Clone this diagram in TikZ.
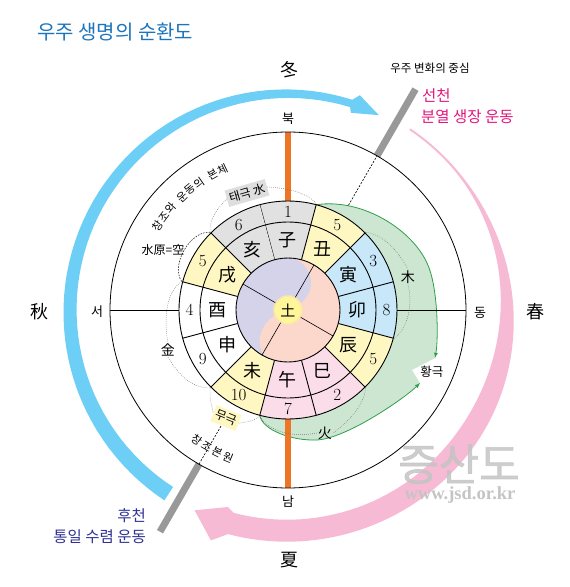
\documentclass[tikz,border=0pt]{standalone}
\usepackage{fontspec}
\newfontfamily\krfont{Noto Sans CJK KR}
\newfontfamily\krbold[FakeBold=1.5]{Noto Sans CJK KR}
\newfontfamily\wmfont{Liberation Serif}
\usepackage{tikz}
\usetikzlibrary{arrows}

\definecolor{ringgrey}{HTML}{E1E1E2}
\definecolor{ringyellow}{HTML}{FFF7C2}
\definecolor{ringblue}{HTML}{C8E7F8}
\definecolor{ringpink}{HTML}{FBDDEA}
\definecolor{discpurple}{HTML}{D5D3EA}
\definecolor{discpeach}{HTML}{FBD8CB}
\definecolor{earthyellow}{HTML}{FFF59B}
\definecolor{earthrim}{HTML}{FBE8A6}
\definecolor{hwangfill}{HTML}{CDE6D1}
\definecolor{hwangline}{HTML}{2E9E4A}
\definecolor{meridian}{HTML}{EF7526}
\definecolor{axisgrey}{HTML}{999999}
\definecolor{autumnblue}{HTML}{6DCFF6}
\definecolor{springpink}{HTML}{F7BAD5}
\definecolor{seoncheon}{HTML}{E3157C}
\definecolor{hucheon}{HTML}{2E3192}
\definecolor{titleblue}{HTML}{1C75BC}
\definecolor{wmgrey}{HTML}{C4C4C4}

\newcommand{\pxsize}[1]{\fontsize{#1}{#1}\selectfont}

\begin{document}
\begin{tikzpicture}[x=1pt, y=1pt,
    declare function={
      bo(\x)=219.8+7.2*(\x-72)/165;
      bi(\x)=212.2-1.2*(\x-72)/165;
      ps(\x)=min(1,max(0,(45-\x)/85));
      pw(\x)=2+20*(3*ps(\x)^2-2*ps(\x)^3);
      pc(\x)=218+3*(56-\x)/161;
    },
    kr/.style={font={\krfont\pxsize{#1}}, inner sep=1pt},
    kr/.default=12,
    branch/.style={font={\krfont\pxsize{18}}, inner sep=0pt},
    number/.style={font={\pxsize{17}}, inner sep=0pt},
    ringline/.style={line width=0.9pt},
    guide/.style={black!55, line width=0.5pt, dash pattern=on 0.7pt off 1.3pt},
    tagbox/.style={kr=12, inner sep=2.5pt, minimum height=17pt},
    arctext/.style={kr=11, inner sep=0pt}]

\useasboundingbox (-288,-277) rectangle (282,310);

% the two halves of the cycle
\fill[autumnblue] plot[domain=237:73, samples=60] (\x:{bo(\x)})
    -- (71.5:226.5) -- (65:215) -- (72.3:207)
    -- plot[domain=73:237, samples=60] (\x:{bi(\x)}) -- cycle;
\fill[springpink] plot[domain=56:-105, samples=80] (\x:{pc(\x)+pw(\x)/2})
    -- (-108.5:243) -- (-115:221) -- (-107:206)
    -- plot[domain=-105:56, samples=80] (\x:{pc(\x)-pw(\x)/2}) -- cycle;

% axis of change
\coordinate (rimNE) at (60:178);
\coordinate (axisNE) at (60:255);
\coordinate (rimSW) at (240:178);
\coordinate (axisSW) at (240:256);
\draw[axisgrey, line width=7pt] (rimNE) -- (axisNE);
\draw[axisgrey, line width=7pt] (rimSW) -- (axisSW);

% hwanggeuk region
\fill[hwangfill] (75:109) .. controls (75,112) and (124,80) .. (139,47)
    .. controls (150,24.5) and (150.6,-28.4) .. (147,-48) -- (124,-60) -- (132,-73)
    .. controls (118,-87) and (60,-128) .. (29,-130)
    .. controls (4,-131) and (-26,-120) .. (-105:109)
    arc[start angle=-105, end angle=75, radius=109] -- cycle;
\draw[hwangline, line width=0.8pt, -latex] (75:109) .. controls (75,112) and (124,80) .. (139,47)
    .. controls (150,24.5) and (150.6,-28.4) .. (147,-48);
\draw[hwangline, line width=0.8pt, -latex] (-105:109) .. controls (-26,-120) and (4,-131) .. (29,-130)
    .. controls (60,-128) and (118,-87) .. (132,-73);

% meridians
\draw[meridian, line width=6pt] (90:109) -- (90:178);
\draw[meridian, line width=6pt] (270:109) -- (270:178);
\draw[line width=0.7pt] (0:109) -- (0:178);
\draw[line width=0.7pt] (180:109) -- (180:178);
\draw[line width=0.6pt, dash pattern=on 2pt off 1.5pt] (60:121) -- (rimNE);
\draw[line width=0.6pt, dash pattern=on 2pt off 1.5pt] (240:134) -- (rimSW);

% twelve branches
\foreach \br/\num/\col [count=\i from 0] in {子/1/ringgrey, 丑/5/ringyellow, 寅/3/ringblue,
    卯/8/ringblue, 辰/5/ringyellow, 巳/2/ringpink, 午/7/ringpink, 未/10/ringyellow,
    申/9/white, 酉/4/white, 戌/5/ringyellow, 亥/6/ringgrey}
{
  \pgfmathsetmacro\ang{90-30*\i}
  \fill[\col] (\ang-15:52) arc[start angle=\ang-15, end angle=\ang+15, radius=52]
      -- (\ang+15:109) arc[start angle=\ang+15, end angle=\ang-15, radius=109] -- cycle;
  \draw[ringline] (\ang+15:52) -- (\ang+15:109);
  \node[branch] (br\i) at (\ang:70) {\br};
  \node[number] (num\i) at (\ang:98.5) {\num};
}

% taiji disc
\fill[discpurple] (0,0) circle[radius=52];
\fill[discpeach] (85:52) arc[start angle=85, end angle=-113, radius=52]
    .. controls (-34,-40) and (-32,-8) .. (0,0) .. controls (32,10) and (28,45) .. (85:52) -- cycle;
\foreach \a in {60,150,240,-30}
  \draw[line width=0.6pt] (\a:14) -- (\a:52);
\draw[ringline] (0,0) circle[radius=52] (0,0) circle[radius=88] (0,0) circle[radius=109];
\draw[line width=0.8pt] (0,0) circle[radius=178];
\node[circle,
    fill=earthyellow,
    draw=earthrim,
    line width=1.5pt,
    minimum size=28pt,
    inner sep=0pt,
    font={\krfont\pxsize{15}}] (earth) at (0,0) {土};

% labels
\node[kr=20, text=titleblue, anchor=west] (title) at (-252,278) {우주 생명의 순환도};
\node[kr=18] (winter) at (2,240) {冬};
\node[kr=18] (summer) at (2,-250) {夏};
\node[kr=18] (autumn) at (-248,-2) {秋};
\node[kr=18] (spring) at (247,-2) {春};
\node[kr=13] (north) at (0,191) {북};
\node[kr=13] (south) at (0,-192) {남};
\node[kr=13] (west) at (-191,-2) {서};
\node[kr=13] (east) at (192,-3) {동};
\node[kr=11.5] (axislabel) at (142,242) {우주 변화의 중심};
\node[kr=15.5, text=seoncheon, anchor=west] (pre1) at (133,214) {선천};
\node[kr=15.5, text=seoncheon, anchor=west] (pre2) at (132,193) {분열 생장 운동};
\node[kr=15.5, text=hucheon, anchor=east] (post1) at (-141,-206) {후천};
\node[kr=15.5, text=hucheon, anchor=east] (post2) at (-141,-227) {통일 수렴 운동};

\node[tagbox, fill=black!13, rotate=16] (taeguk) at (-41,117) {태극 水};
\node[tagbox, fill=ringyellow, rotate=-22] (mugeuk) at (-62,-108) {무극};
\node[kr=12] (waterorigin) at (-125,60) {水原=空};
\node[kr=14] (metal) at (-120,-40) {金};
\node[kr=14] (wood) at (120,33) {木};
\node[kr=14] (fire) at (37,-123) {火};
\node[kr=12.5] (hwang) at (144,-62) {황극};
\foreach \ch/\ang in {창/147, 조/143, 와/139, 운/133, 동/129, 의/125, 본/119, 체/115}
  \node[arctext, rotate=\ang-90] (body\ang) at (\ang:155) {\ch};
\foreach \ch/\ang in {창/235, 조/239.3, 본/243.6, 원/247.9}
  \node[arctext, rotate=\ang+90] (origin\ang) at (\ang:159) {\ch};

% element brackets
\draw[guide] (135:110) .. controls (131:121) and (124:124) .. (taeguk.west);
\draw[guide] (taeguk.east) .. controls (94:123) and (82:121) .. (75:110);
\draw[guide] (165:110) .. controls (171:122) and (182:125) .. (metal.north);
\draw[guide] (metal.south) .. controls (213:127) and (220:122) .. (225:110);
\draw[guide] (45:110) .. controls (38:122) and (28:125) .. (wood.north);
\draw[guide] (wood.south) .. controls (3:125) and (-8:122) .. (-15:110);
\draw[guide] (-45:110) .. controls (-52:123) and (-62:127) .. (fire.east);
\draw[guide] (fire.west) .. controls (-88:128) and (-99:123) .. (-105:110);
\draw[guide] (225:110) .. controls (228:117) .. (mugeuk.west);
\draw[guide] (mugeuk.east) .. controls (252:117) .. (255:110);
\draw[line width=0.5pt, dash pattern=on 1.6pt off 1.2pt] (135:110) .. controls (141:126) and (159:126) .. (165:110);

% watermark
\node[font={\krbold\pxsize{44}}, text=wmgrey, opacity=0.85] (wmark) at (171,-154) {증산도};
\node[font={\wmfont\bfseries\pxsize{18.5}}, text=wmgrey] (wmurl) at (172,-185) {www.jsd.or.kr};

\end{tikzpicture}
\end{document}
